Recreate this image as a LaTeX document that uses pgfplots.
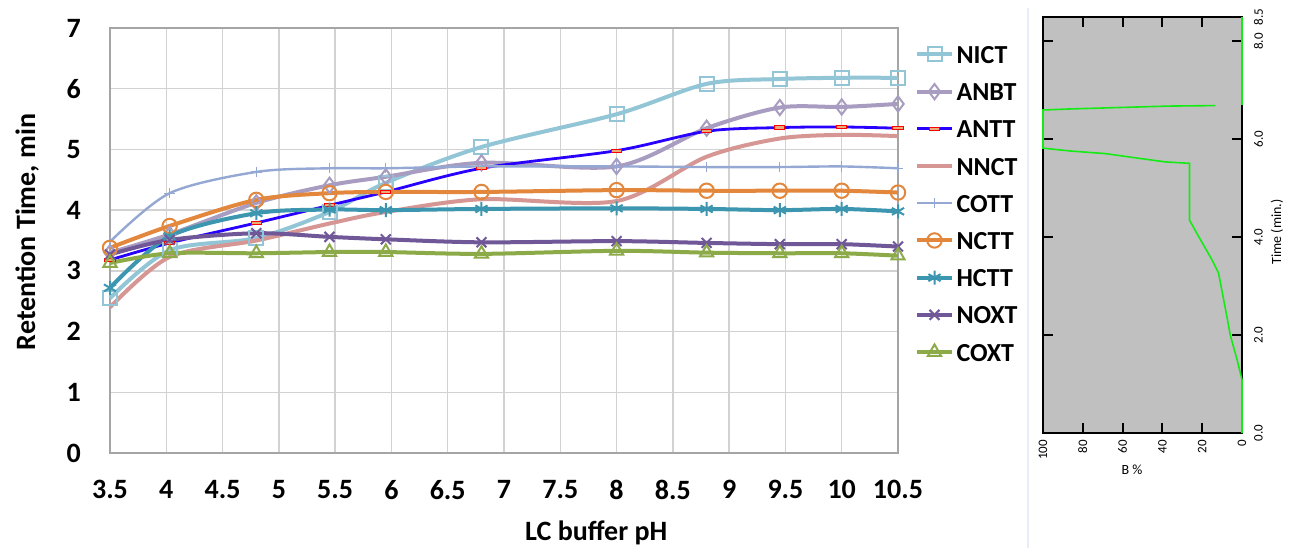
\documentclass[border=0pt]{standalone}
\usepackage{fontspec}
\setmainfont{Carlito}
\usepackage{pgfplots}
\pgfplotsset{compat=1.18}
\definecolor{cNICT}{RGB}{146,197,214}
\definecolor{cANBT}{RGB}{168,156,192}
\definecolor{cANTT}{RGB}{40,0,255}
\definecolor{cNNCT}{RGB}{214,150,148}
\definecolor{cCOTT}{RGB}{149,168,212}
\definecolor{cNCTT}{RGB}{226,135,60}
\definecolor{cHCTT}{RGB}{60,150,175}
\definecolor{cNOXT}{RGB}{112,88,152}
\definecolor{cCOXT}{RGB}{140,170,72}
\definecolor{gridgray}{RGB}{210,210,210}
\definecolor{axisgray}{RGB}{165,165,165}
\definecolor{panelgray}{RGB}{192,192,192}
\definecolor{lime}{RGB}{20,235,20}
\definecolor{sepcol}{RGB}{232,236,244}
\begin{document}
\begin{tikzpicture}
\useasboundingbox (0pt,0pt) rectangle (644.5pt,274pt);
\fill[white] (0pt,0pt) rectangle (644.5pt,274pt);
\draw[sepcol, line width=1pt] (514pt,0pt) -- (514pt,270pt);
\begin{axis}[
  at={(55pt,47.5pt)}, anchor=south west, scale only axis,
  width=394pt, height=212.5pt,
  xmin=3.5, xmax=10.5, ymin=0, ymax=7,
  xtick={3.5,4,4.5,5,5.5,6,6.5,7,7.5,8,8.5,9,9.5,10,10.5},
  ytick={0,1,2,3,4,5,6,7},
  grid=major, major grid style={color=gridgray, line width=0.75pt},
  axis line style={color=axisgray, line width=0.75pt},
  major tick length=0pt,
  /pgf/number format/assume math mode=true,
  ticklabel style={font=\fontsize{14}{16}\selectfont\bfseries},
  xticklabel style={yshift=-10pt},
  yticklabel style={xshift=-11pt},
  xlabel={LC buffer pH},
  xlabel style={at={(axis description cs:0.617,-0.188)}, anchor=center, font=\fontsize{14}{16}\selectfont\bfseries},
  ylabel={Retention Time, min},
  ylabel style={at={(axis description cs:-0.105,0.52)}, anchor=center, font=\fontsize{14}{16}\selectfont\bfseries},
  legend style={at={(axis description cs:1.0216,0.967)}, anchor=north west, draw=none, fill=none, inner sep=0pt, row sep=6.6pt,
    font=\fontsize{13}{15}\selectfont\bfseries, nodes={inner sep=1.5pt, text height=9pt, text depth=0pt}},
  legend cell align=left,
  clip=false,
]
\addplot[cNICT, line width=2pt, smooth, mark=square, mark size=3.5pt, mark options={line width=1pt, solid}] coordinates {
(3.5,2.55) (4.03,3.34) (4.8,3.54) (5.45,3.97) (5.95,4.45) (6.8,5.04) (8.0,5.58) (8.8,6.08) (9.45,6.16) (10.0,6.18) (10.5,6.18)};
\addlegendentry{NICT}
\addplot[cANBT, line width=2pt, smooth, mark=diamond, mark size=3.8pt, mark options={line width=1pt, solid}] coordinates {
(3.5,3.30) (4.03,3.60) (4.8,4.12) (5.45,4.41) (5.95,4.55) (6.8,4.78) (8.0,4.72) (8.8,5.35) (9.45,5.69) (10.0,5.70) (10.5,5.75)};
\addlegendentry{ANBT}
\addplot[cANTT, line width=1.4pt, smooth, mark=square*, mark size=1.6pt, mark options={xscale=1.6, yscale=0.5, draw=red, fill=cNCTT!70!white, line width=0.5pt}] coordinates {
(3.5,3.18) (4.03,3.46) (4.8,3.79) (5.45,4.08) (5.95,4.30) (6.8,4.69) (8.0,4.98) (8.8,5.30) (9.45,5.36) (10.0,5.37) (10.5,5.35)};
\addlegendentry{ANTT}
\addplot[cNNCT, line width=2pt, smooth, mark=none] coordinates {
(3.5,2.40) (4.03,3.23) (4.8,3.50) (5.45,3.78) (5.95,3.97) (6.8,4.18) (8.0,4.15) (8.8,4.88) (9.45,5.18) (10.0,5.24) (10.5,5.22)};
\addlegendentry{NNCT}
\addplot[cCOTT, line width=1.2pt, smooth, mark=+, mark size=2.6pt, mark options={line width=0.6pt}] coordinates {
(3.5,3.48) (4.03,4.28) (4.8,4.63) (5.45,4.69) (5.95,4.69) (6.8,4.72) (8.0,4.72) (8.8,4.71) (9.45,4.71) (10.0,4.72) (10.5,4.69)};
\addlegendentry{COTT}
\addplot[cNCTT, line width=2pt, smooth, mark=o, mark size=3.6pt, mark options={line width=1pt}] coordinates {
(3.5,3.38) (4.03,3.74) (4.8,4.17) (5.45,4.28) (5.95,4.30) (6.8,4.30) (8.0,4.33) (8.8,4.32) (9.45,4.32) (10.0,4.32) (10.5,4.29)};
\addlegendentry{NCTT}
\addplot[cHCTT, line width=2pt, smooth, mark=asterisk, mark size=3.5pt, mark options={line width=1pt}] coordinates {
(3.5,2.72) (4.03,3.57) (4.8,3.95) (5.45,4.01) (5.95,4.00) (6.8,4.02) (8.0,4.03) (8.8,4.02) (9.45,4.00) (10.0,4.02) (10.5,3.98)};
\addlegendentry{HCTT}
\addplot[cNOXT, line width=2pt, smooth, mark=x, mark size=3.5pt, mark options={line width=1pt}] coordinates {
(3.5,3.27) (4.03,3.51) (4.8,3.62) (5.45,3.56) (5.95,3.52) (6.8,3.47) (8.0,3.49) (8.8,3.46) (9.45,3.44) (10.0,3.44) (10.5,3.40)};
\addlegendentry{NOXT}
\addplot[cCOXT, line width=2pt, smooth, mark=triangle, mark size=3.8pt, mark options={line width=1pt}] coordinates {
(3.5,3.13) (4.03,3.29) (4.8,3.29) (5.45,3.31) (5.95,3.31) (6.8,3.28) (8.0,3.33) (8.8,3.30) (9.45,3.29) (10.0,3.29) (10.5,3.25)};
\addlegendentry{COXT}
\end{axis}
\begin{axis}[
  at={(521.5pt,57.5pt)}, anchor=south west, scale only axis,
  width=99.5pt, height=208pt,
  xmin=0, xmax=100, x dir=reverse, ymin=0, ymax=8.5,
  axis background/.style={fill=panelgray},
  axis line style={black, line width=0.9pt},
  xtick={0,20,40,60,80,100}, xticklabels={0,20,40,60,80,100},
  ytick={0,2,4,6,8,8.5}, yticklabels={0.0,2.0,4.0,6.0,8.0,8.5},
  tick align=inside, major tick length=5pt,
  every tick/.style={black, line width=1pt},
  xtick pos=both, ytick pos=both,
  yticklabel pos=right,
  ticklabel style={font=\fontsize{6.5}{7}\selectfont},
  xticklabel style={rotate=90, anchor=east},
  yticklabel style={xshift=2.5pt, rotate=90, anchor=north},
  clip=false,
]
\addplot[lime, line width=0.8pt, mark=none] coordinates {
(0,0) (0,1.09) (2.5,1.5) (5.9,2.0) (7.6,2.38) (9.2,2.72) (11.8,3.27) (15.1,3.54) (22.7,4.08) (26.4,4.35) (26.4,5.51) (38.7,5.54) (51.3,5.61) (68.9,5.71) (85.7,5.76) (100,5.82) (100,6.6) (87.4,6.62) (62.2,6.65) (37,6.68) (13.4,6.69)};
\addplot[lime, line width=0.8pt, mark=none] coordinates {(0,6.7) (0,8.5)};
\end{axis}
\node[font=\fontsize{7}{8}\selectfont, anchor=center] at (566pt,39pt) {B \%};
\node[font=\fontsize{7}{8}\selectfont, anchor=center, rotate=90] at (638.5pt,158pt) {Time (min.)};
\end{tikzpicture}
\end{document}
